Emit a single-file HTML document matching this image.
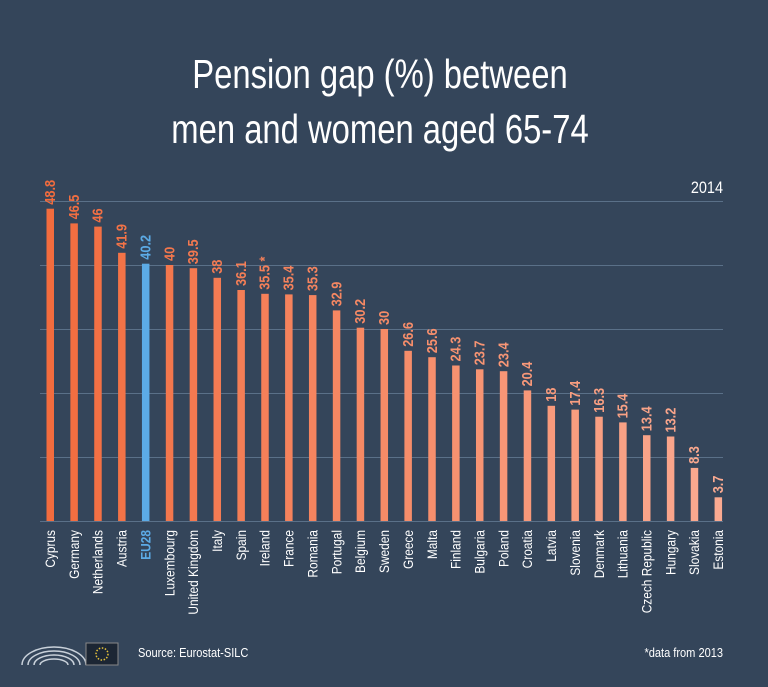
<!DOCTYPE html>
<html><head><meta charset="utf-8"><style>
html,body{margin:0;padding:0;background:#34455a;}
svg{display:block;font-family:"Liberation Sans",sans-serif;}
.v{font-size:15px;font-weight:bold;}
.n{font-size:14px;fill:#fff;text-anchor:end;}
</style></head><body>
<svg width="768" height="687" viewBox="0 0 768 687" xmlns="http://www.w3.org/2000/svg">
<rect width="768" height="687" fill="#34455a"/>
<g fill="#ffffff" font-size="41" text-anchor="middle">
<text transform="translate(380,88) scale(0.8,1)">Pension gap (%) between</text>
<text transform="translate(380,143) scale(0.8,1)">men and women aged 65-74</text>
</g>
<text transform="translate(723,193) scale(0.85,1)" fill="#fff" font-size="17" text-anchor="end">2014</text>
<g stroke="#5a7088" stroke-width="1">
<line x1="40" x2="723" y1="201.5" y2="201.5"/>
<line x1="40" x2="723" y1="265.5" y2="265.5"/>
<line x1="40" x2="723" y1="329.5" y2="329.5"/>
<line x1="40" x2="723" y1="393.5" y2="393.5"/>
<line x1="40" x2="723" y1="457.5" y2="457.5"/>
<line x1="40" x2="723" y1="521.5" y2="521.5"/>
</g>

<g transform="translate(50,0)" fill="rgb(242,108,62)"><rect x="-3.5" y="208.7" width="7.5" height="312.3"/><text class="v" transform="translate(5,204.7) rotate(-90) scale(0.85,1)">48.8</text><text class="n" transform="translate(5,530) rotate(-90) scale(0.85,1)">Cyprus</text></g>
<g transform="translate(73.86,0)" fill="rgb(242,110,65)"><rect x="-3.5" y="223.4" width="7.5" height="297.6"/><text class="v" transform="translate(5,219.4) rotate(-90) scale(0.85,1)">46.5</text><text class="n" transform="translate(5,530) rotate(-90) scale(0.85,1)">Germany</text></g>
<g transform="translate(97.72,0)" fill="rgb(243,112,68)"><rect x="-3.5" y="226.6" width="7.5" height="294.4"/><text class="v" transform="translate(5,222.6) rotate(-90) scale(0.85,1)">46</text><text class="n" transform="translate(5,530) rotate(-90) scale(0.85,1)">Netherlands</text></g>
<g transform="translate(121.58,0)" fill="rgb(243,115,71)"><rect x="-3.5" y="252.8" width="7.5" height="268.2"/><text class="v" transform="translate(5,248.8) rotate(-90) scale(0.85,1)">41.9</text><text class="n" transform="translate(5,530) rotate(-90) scale(0.85,1)">Austria</text></g>
<g transform="translate(145.44,0)" fill="#5cabe6"><rect x="-3.5" y="263.7" width="7.5" height="257.3"/><text class="v" transform="translate(5,259.7) rotate(-90) scale(0.85,1)">40.2</text><text class="n" style="fill:#5cabe6;font-weight:bold" transform="translate(5,530) rotate(-90) scale(0.85,1)">EU28</text></g>
<g transform="translate(169.3,0)" fill="rgb(243,119,77)"><rect x="-3.5" y="265" width="7.5" height="256"/><text class="v" transform="translate(5,261) rotate(-90) scale(0.85,1)">40</text><text class="n" transform="translate(5,530) rotate(-90) scale(0.85,1)">Luxembourg</text></g>
<g transform="translate(193.16,0)" fill="rgb(244,121,80)"><rect x="-3.5" y="268.2" width="7.5" height="252.8"/><text class="v" transform="translate(5,264.2) rotate(-90) scale(0.85,1)">39.5</text><text class="n" transform="translate(5,530) rotate(-90) scale(0.85,1)">United Kingdom</text></g>
<g transform="translate(217.02,0)" fill="rgb(244,123,83)"><rect x="-3.5" y="277.8" width="7.5" height="243.2"/><text class="v" transform="translate(5,273.8) rotate(-90) scale(0.85,1)">38</text><text class="n" transform="translate(5,530) rotate(-90) scale(0.85,1)">Italy</text></g>
<g transform="translate(240.88,0)" fill="rgb(244,126,86)"><rect x="-3.5" y="290" width="7.5" height="231"/><text class="v" transform="translate(5,286) rotate(-90) scale(0.85,1)">36.1</text><text class="n" transform="translate(5,530) rotate(-90) scale(0.85,1)">Spain</text></g>
<g transform="translate(264.74,0)" fill="rgb(245,128,89)"><rect x="-3.5" y="293.8" width="7.5" height="227.2"/><text class="v" transform="translate(5,289.8) rotate(-90) scale(0.85,1)">35.5 *</text><text class="n" transform="translate(5,530) rotate(-90) scale(0.85,1)">Ireland</text></g>
<g transform="translate(288.6,0)" fill="rgb(245,130,92)"><rect x="-3.5" y="294.4" width="7.5" height="226.6"/><text class="v" transform="translate(5,290.4) rotate(-90) scale(0.85,1)">35.4</text><text class="n" transform="translate(5,530) rotate(-90) scale(0.85,1)">France</text></g>
<g transform="translate(312.46,0)" fill="rgb(245,132,95)"><rect x="-3.5" y="295.1" width="7.5" height="225.9"/><text class="v" transform="translate(5,291.1) rotate(-90) scale(0.85,1)">35.3</text><text class="n" transform="translate(5,530) rotate(-90) scale(0.85,1)">Romania</text></g>
<g transform="translate(336.32,0)" fill="rgb(245,135,98)"><rect x="-3.5" y="310.4" width="7.5" height="210.6"/><text class="v" transform="translate(5,306.4) rotate(-90) scale(0.85,1)">32.9</text><text class="n" transform="translate(5,530) rotate(-90) scale(0.85,1)">Portugal</text></g>
<g transform="translate(360.18,0)" fill="rgb(246,137,100)"><rect x="-3.5" y="327.7" width="7.5" height="193.3"/><text class="v" transform="translate(5,323.7) rotate(-90) scale(0.85,1)">30.2</text><text class="n" transform="translate(5,530) rotate(-90) scale(0.85,1)">Belgium</text></g>
<g transform="translate(384.04,0)" fill="rgb(246,139,103)"><rect x="-3.5" y="329" width="7.5" height="192"/><text class="v" transform="translate(5,325) rotate(-90) scale(0.85,1)">30</text><text class="n" transform="translate(5,530) rotate(-90) scale(0.85,1)">Sweden</text></g>
<g transform="translate(407.9,0)" fill="rgb(246,141,106)"><rect x="-3.5" y="350.8" width="7.5" height="170.2"/><text class="v" transform="translate(5,346.8) rotate(-90) scale(0.85,1)">26.6</text><text class="n" transform="translate(5,530) rotate(-90) scale(0.85,1)">Greece</text></g>
<g transform="translate(431.76,0)" fill="rgb(247,143,109)"><rect x="-3.5" y="357.2" width="7.5" height="163.8"/><text class="v" transform="translate(5,353.2) rotate(-90) scale(0.85,1)">25.6</text><text class="n" transform="translate(5,530) rotate(-90) scale(0.85,1)">Malta</text></g>
<g transform="translate(455.62,0)" fill="rgb(247,146,112)"><rect x="-3.5" y="365.5" width="7.5" height="155.5"/><text class="v" transform="translate(5,361.5) rotate(-90) scale(0.85,1)">24.3</text><text class="n" transform="translate(5,530) rotate(-90) scale(0.85,1)">Finland</text></g>
<g transform="translate(479.48,0)" fill="rgb(247,148,115)"><rect x="-3.5" y="369.3" width="7.5" height="151.7"/><text class="v" transform="translate(5,365.3) rotate(-90) scale(0.85,1)">23.7</text><text class="n" transform="translate(5,530) rotate(-90) scale(0.85,1)">Bulgaria</text></g>
<g transform="translate(503.34,0)" fill="rgb(248,150,118)"><rect x="-3.5" y="371.2" width="7.5" height="149.8"/><text class="v" transform="translate(5,367.2) rotate(-90) scale(0.85,1)">23.4</text><text class="n" transform="translate(5,530) rotate(-90) scale(0.85,1)">Poland</text></g>
<g transform="translate(527.2,0)" fill="rgb(248,152,121)"><rect x="-3.5" y="390.4" width="7.5" height="130.6"/><text class="v" transform="translate(5,386.4) rotate(-90) scale(0.85,1)">20.4</text><text class="n" transform="translate(5,530) rotate(-90) scale(0.85,1)">Croatia</text></g>
<g transform="translate(551.06,0)" fill="rgb(248,154,124)"><rect x="-3.5" y="405.8" width="7.5" height="115.2"/><text class="v" transform="translate(5,401.8) rotate(-90) scale(0.85,1)">18</text><text class="n" transform="translate(5,530) rotate(-90) scale(0.85,1)">Latvia</text></g>
<g transform="translate(574.92,0)" fill="rgb(248,157,127)"><rect x="-3.5" y="409.6" width="7.5" height="111.4"/><text class="v" transform="translate(5,405.6) rotate(-90) scale(0.85,1)">17.4</text><text class="n" transform="translate(5,530) rotate(-90) scale(0.85,1)">Slovenia</text></g>
<g transform="translate(598.78,0)" fill="rgb(249,159,130)"><rect x="-3.5" y="416.7" width="7.5" height="104.3"/><text class="v" transform="translate(5,412.7) rotate(-90) scale(0.85,1)">16.3</text><text class="n" transform="translate(5,530) rotate(-90) scale(0.85,1)">Denmark</text></g>
<g transform="translate(622.64,0)" fill="rgb(249,161,133)"><rect x="-3.5" y="422.4" width="7.5" height="98.6"/><text class="v" transform="translate(5,418.4) rotate(-90) scale(0.85,1)">15.4</text><text class="n" transform="translate(5,530) rotate(-90) scale(0.85,1)">Lithuania</text></g>
<g transform="translate(646.5,0)" fill="rgb(249,163,136)"><rect x="-3.5" y="435.2" width="7.5" height="85.8"/><text class="v" transform="translate(5,431.2) rotate(-90) scale(0.85,1)">13.4</text><text class="n" transform="translate(5,530) rotate(-90) scale(0.85,1)">Czech Republic</text></g>
<g transform="translate(670.36,0)" fill="rgb(250,165,139)"><rect x="-3.5" y="436.5" width="7.5" height="84.5"/><text class="v" transform="translate(5,432.5) rotate(-90) scale(0.85,1)">13.2</text><text class="n" transform="translate(5,530) rotate(-90) scale(0.85,1)">Hungary</text></g>
<g transform="translate(694.22,0)" fill="rgb(250,168,142)"><rect x="-3.5" y="467.9" width="7.5" height="53.1"/><text class="v" transform="translate(5,463.9) rotate(-90) scale(0.85,1)">8.3</text><text class="n" transform="translate(5,530) rotate(-90) scale(0.85,1)">Slovakia</text></g>
<g transform="translate(718.08,0)" fill="rgb(250,170,145)"><rect x="-3.5" y="497.3" width="7.5" height="23.7"/><text class="v" transform="translate(5,493.3) rotate(-90) scale(0.85,1)">3.7</text><text class="n" transform="translate(5,530) rotate(-90) scale(0.85,1)">Estonia</text></g>

<g fill="#fff" font-size="13">
<text transform="translate(138,657) scale(0.85,1)">Source: Eurostat-SILC</text>
<text transform="translate(723,657) scale(0.85,1)" text-anchor="end">*data from 2013</text>
</g>
<g fill="none" stroke="#c9d1da" stroke-width="1.5">
<path d="M22,665 A32,18 0 0 1 86,665"/>
<path d="M28,665 A26,14 0 0 1 80,665"/>
<path d="M34,665 A20,10 0 0 1 74,665"/>
<path d="M40,665 A14,6 0 0 1 68,665"/>
</g>
<rect x="86" y="643" width="32" height="22" fill="#1c2634" stroke="#888"/>
<circle cx="102" cy="654" r="6" fill="none" stroke="#e6c23a" stroke-width="1.5" stroke-dasharray="1.5 1.6"/>
</svg>
</body></html>
